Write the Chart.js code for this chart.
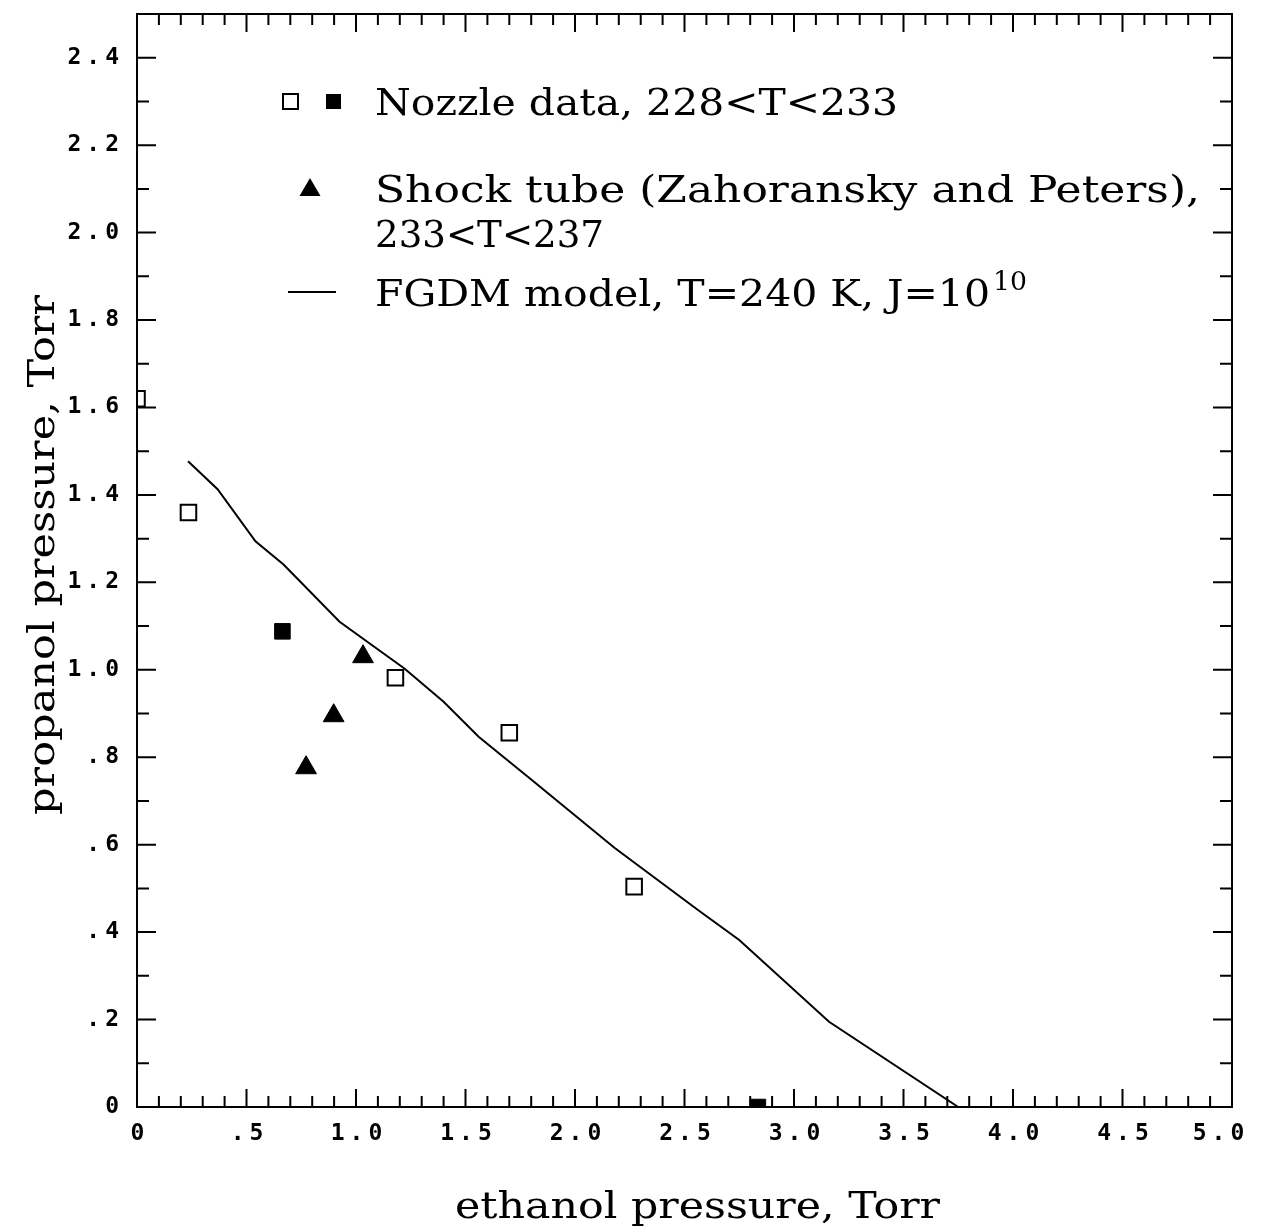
<!DOCTYPE html>
<html lang="en">
<head>
<meta charset="UTF-8">
<title>propanol vs ethanol pressure</title>
<script src="https://cdn.jsdelivr.net/npm/chart.js@4.4.1/dist/chart.umd.min.js"></script>
<style>
  html, body { margin: 0; padding: 0; background: #fff; }
  canvas { display: block; }
</style>
</head>
<body>
<canvas id="chart" width="1268" height="1232"></canvas>
<script>
// nozzle data, open squares
const nozzleOpenX = [0.0, 0.235, 1.18, 1.70, 2.27];
const nozzleOpenY = [1.62, 1.36, 0.982, 0.856, 0.504];
// nozzle data, filled squares
const nozzleFilledX = [0.664, 2.835];
const nozzleFilledY = [1.088, 0.0];
// shock tube (Zahoransky and Peters)
const shockX = [0.772, 0.898, 1.032];
const shockY = [0.776, 0.895, 1.030];
// FGDM model curve
const modelX = [0.233, 0.368, 0.541, 0.669, 0.925, 1.221, 1.40, 1.56, 1.80, 2.18, 2.56, 2.75, 3.16, 3.75];
const modelY = [1.477, 1.413, 1.294, 1.241, 1.110, 1.003, 0.927, 0.847, 0.749, 0.593, 0.451, 0.382, 0.195, 0.0];

// axes
const xTickValues = [0, 0.5, 1.0, 1.5, 2.0, 2.5, 3.0, 3.5, 4.0, 4.5, 5.0];
const xTickLabels = ['0', '.5', '1.0', '1.5', '2.0', '2.5', '3.0', '3.5', '4.0', '4.5', '5.0'];
const yTickValues = [0, 0.2, 0.4, 0.6, 0.8, 1.0, 1.2, 1.4, 1.6, 1.8, 2.0, 2.2, 2.4];
const yTickLabels = ['0', '.2', '.4', '.6', '.8', '1.0', '1.2', '1.4', '1.6', '1.8', '2.0', '2.2', '2.4'];
const xTitle = 'ethanol pressure, Torr';
const yTitle = 'propanol pressure, Torr';

// legend
const legendNozzle = 'Nozzle data, 228<T<233';
const legendShock = ['Shock tube (Zahoransky and Peters),', '233<T<237'];
const legendModel = 'FGDM model, T=240 K, J=10';
const legendModelSup = '10';

const serif = '"DejaVu Serif", "Liberation Serif", serif';
const mono = '"DejaVu Sans Mono", "Liberation Mono", monospace';

function toPoints(xs, ys) {
    return xs.map((x, i) => ({ x: x, y: ys[i] }));
}

// draws text stretched to a given width
function fitText(ctx, text, x, y, width) {
    const w = ctx.measureText(text).width;
    ctx.save();
    ctx.translate(x, y);
    ctx.scale(width / w, 1);
    ctx.fillText(text, 0, 0);
    ctx.restore();
}

const framePlugin = {
    id: 'frame',
    afterDraw(chart) {
        const ctx = chart.ctx;
        const a = chart.chartArea;
        const xs = chart.scales.x;
        const ys = chart.scales.y;

        ctx.save();
        ctx.strokeStyle = '#000';
        ctx.fillStyle = '#000';
        ctx.lineWidth = 2;
        ctx.strokeRect(a.left, a.top, a.right - a.left, a.bottom - a.top);

        // inward ticks
        ctx.beginPath();
        for (let i = 1; i < 50; i++) {
            const px = xs.getPixelForValue(i / 10);
            const len = i % 5 === 0 ? 18 : 11;
            ctx.moveTo(px, a.bottom); ctx.lineTo(px, a.bottom - len);
            ctx.moveTo(px, a.top); ctx.lineTo(px, a.top + len);
        }
        for (let i = 1; i < 25; i++) {
            const py = ys.getPixelForValue(i / 10);
            const len = i % 2 === 0 ? 19 : 12;
            ctx.moveTo(a.left, py); ctx.lineTo(a.left + len, py);
            ctx.moveTo(a.right, py); ctx.lineTo(a.right - len, py);
        }
        ctx.stroke();

        // tick labels
        ctx.font = 'bold 23px ' + mono;
        ctx.letterSpacing = '5px';
        ctx.textBaseline = 'middle';
        ctx.textAlign = 'right';
        yTickValues.forEach((v, i) => {
            ctx.fillText(yTickLabels[i], a.left - 13, ys.getPixelForValue(v));
        });
        ctx.textAlign = 'center';
        xTickValues.forEach((v, i) => {
            let px = xs.getPixelForValue(v) + 3;
            if (i === xTickValues.length - 1) px -= 14;
            ctx.fillText(xTickLabels[i], px, a.bottom + 27);
        });
        ctx.letterSpacing = '0px';

        // axis titles
        ctx.font = '38px ' + serif;
        ctx.textAlign = 'left';
        ctx.textBaseline = 'alphabetic';
        fitText(ctx, xTitle, 455, 1218, 485);
        ctx.save();
        ctx.translate(54, 815);
        ctx.rotate(-Math.PI / 2);
        fitText(ctx, yTitle, 0, 0, 520);
        ctx.restore();

        // legend
        fitText(ctx, legendNozzle, 375, 115, 523);
        fitText(ctx, legendShock[0], 375, 202, 825);
        fitText(ctx, legendShock[1], 375, 247, 229);
        fitText(ctx, legendModel, 375, 306, 615);
        ctx.font = '26px ' + serif;
        fitText(ctx, legendModelSup, 993, 290, 34);

        ctx.lineWidth = 2;
        ctx.fillStyle = '#fff';
        ctx.fillRect(283, 94, 15, 15);
        ctx.strokeRect(283, 94, 15, 15);
        ctx.fillStyle = '#000';
        ctx.fillRect(326, 94, 15, 15);
        ctx.beginPath();
        ctx.moveTo(310, 178);
        ctx.lineTo(320.5, 196);
        ctx.lineTo(299.5, 196);
        ctx.closePath();
        ctx.fill();
        ctx.beginPath();
        ctx.moveTo(288, 292);
        ctx.lineTo(336, 292);
        ctx.stroke();
        ctx.restore();
    }
};

new Chart(document.getElementById('chart'), {
    type: 'scatter',
    data: {
        datasets: [
            {
                label: 'FGDM model',
                data: toPoints(modelX, modelY),
                showLine: true,
                borderColor: '#000',
                borderWidth: 2,
                pointRadius: 0,
                tension: 0,
                order: 10
            },
            {
                label: 'Nozzle data (open)',
                data: toPoints(nozzleOpenX, nozzleOpenY),
                pointStyle: 'rect',
                pointRadius: 11,
                backgroundColor: '#fff',
                borderColor: '#000',
                borderWidth: 2,
                clip: 0,
                order: 1
            },
            {
                label: 'Nozzle data (filled)',
                data: toPoints(nozzleFilledX, nozzleFilledY),
                pointStyle: 'rect',
                pointRadius: 11,
                backgroundColor: '#000',
                borderColor: '#000',
                borderWidth: 1,
                clip: 0,
                order: 1
            },
            {
                label: 'Shock tube',
                data: toPoints(shockX, shockY),
                pointStyle: 'triangle',
                pointRadius: 12,
                backgroundColor: '#000',
                borderColor: '#000',
                borderWidth: 1,
                order: 1
            }
        ]
    },
    options: {
        responsive: false,
        animation: false,
        layout: { padding: { left: 137, right: 36, top: 14, bottom: 125 } },
        plugins: {
            legend: { display: false },
            tooltip: { enabled: false }
        },
        scales: {
            x: { type: 'linear', min: 0, max: 5, display: false },
            y: { type: 'linear', min: 0, max: 2.5, display: false }
        }
    },
    plugins: [framePlugin]
});
</script>
</body>
</html>
